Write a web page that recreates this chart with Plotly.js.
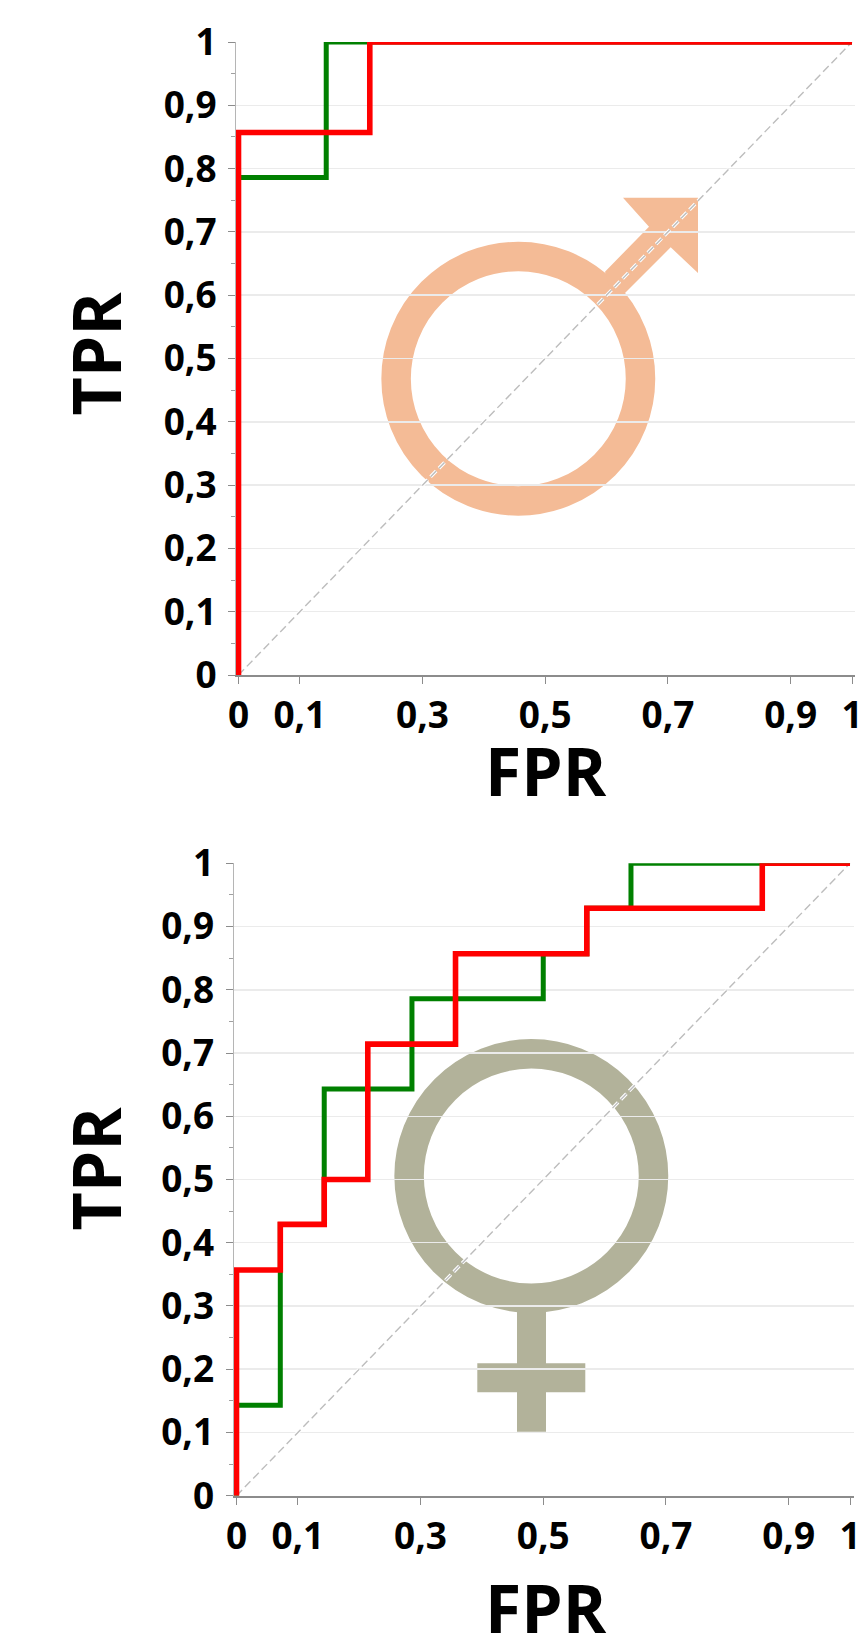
<!DOCTYPE html>
<html><head><meta charset="utf-8">
<script src="https://cdn.plot.ly/plotly-3.0.1.min.js"></script>
<style>html,body{margin:0;padding:0;background:#fff}</style>
</head><body><div id="chart" style="width:866px;height:1644px"></div>
<script>
// ---- data ----
const xTickVals = [0, 0.1, 0.3, 0.5, 0.7, 0.9, 1];
const xTickText = ['0', '0,1', '0,3', '0,5', '0,7', '0,9', '1'];
const yTickVals = [0, 0.1, 0.2, 0.3, 0.4, 0.5, 0.6, 0.7, 0.8, 0.9, 1];
const yTickText = ['0', '0,1', '0,2', '0,3', '0,4', '0,5', '0,6', '0,7', '0,8', '0,9', '1'];
const yMinorVals = [0.05, 0.15, 0.25, 0.35, 0.45, 0.55, 0.65, 0.75, 0.85, 0.95];
const diagX = [0, 1];
const diagY = [0, 1];

const maleGreenX = [0, 0, 0.143, 0.143, 1];
const maleGreenY = [0, 0.786, 0.786, 1, 1];
const maleRedX = [0, 0, 0.214, 0.214, 1];
const maleRedY = [0, 0.857, 0.857, 1, 1];

const femaleGreenX = [0, 0, 0.0714, 0.0714, 0.143, 0.143, 0.286, 0.286, 0.5, 0.5, 0.571, 0.571, 0.643, 0.643, 1];
const femaleGreenY = [0, 0.143, 0.143, 0.429, 0.429, 0.643, 0.643, 0.786, 0.786, 0.857, 0.857, 0.929, 0.929, 1, 1];
const femaleRedX = [0, 0, 0.0714, 0.0714, 0.143, 0.143, 0.214, 0.214, 0.357, 0.357, 0.571, 0.571, 0.857, 0.857, 1];
const femaleRedY = [0, 0.357, 0.357, 0.429, 0.429, 0.5, 0.5, 0.714, 0.714, 0.857, 0.857, 0.929, 0.929, 1, 1];

// ---- layout geometry (page pixels) ----
const W = 866, H = 1644;
const FONT = '"Open Sans", sans-serif';
const panels = [
  {xa:'x',  ya:'y',  left:236,   right:855,   top:42,    bottom:675,    x0:238.5, x1:852},
  {xa:'x2', ya:'y2', left:233.5, right:853.7, top:863.3, bottom:1495.7, x0:236.5, x1:850}
];
panels.forEach(p => {
  p.u = p.x1 - p.x0;
  p.X = px => (px - p.x0) / p.u;
  p.Y = py => (p.bottom - py) / (p.bottom - p.top);
});

function axisX(p) {
  return {
    domain: [p.left / W, p.right / W],
    range: [p.X(p.left), p.X(p.right)],
    anchor: p.ya, tickmode: 'array', tickvals: xTickVals, ticktext: xTickText,
    ticks: 'outside', ticklen: 7, tickwidth: 1, tickcolor: '#8c8c8c',
    showgrid: false, zeroline: false, showline: true, linecolor: '#8c8c8c', linewidth: 2,
    tickfont: {family: FONT, size: 37, weight: 700, color: '#000'},
    ticklabelstandoff: 0, automargin: false
  };
}
function axisY(p) {
  return {
    domain: [1 - p.bottom / H, 1 - p.top / H],
    range: [0, 1], anchor: p.xa, tickmode: 'array', tickvals: yTickVals, ticktext: yTickText,
    ticks: 'outside', ticklen: 7, tickwidth: 1, tickcolor: '#8c8c8c',
    showgrid: true, gridcolor: '#ebebeb', gridwidth: 1.5, zeroline: false,
    showline: true, linecolor: '#b5b5b5', linewidth: 1,
    minor: {tickmode: 'array', tickvals: yMinorVals, ticks: 'outside', ticklen: 4, tickwidth: 1, tickcolor: '#a0a0a0', showgrid: false},
    tickfont: {family: FONT, size: 37, weight: 700, color: '#000'},
    ticklabelstandoff: 4, automargin: false
  };
}

function traces(p, gx, gy, rx, ry) {
  const base = {type: 'scatter', mode: 'lines', xaxis: p.xa, yaxis: p.ya, hoverinfo: 'skip', showlegend: false};
  return [
    {...base, x: diagX, y: diagY, line: {color: '#ffffff', width: 3.5, dash: '8px,4px'}},
    {...base, x: diagX, y: diagY, line: {color: '#bdbdbd', width: 1.4, dash: '8px,4px'}},
    {...base, x: gx, y: gy, line: {color: '#008000', width: 5, shape: 'linear'}},
    {...base, x: rx, y: ry, line: {color: '#ff0000', width: 5.6, shape: 'linear'}}
  ];
}

// ---- gender symbols, behind the grid ----
function ring(p, cx, cy, r, color) {
  return {type: 'circle', layer: 'below', xref: p.xa, yref: p.ya,
    x0: p.X(cx - r), x1: p.X(cx + r), y0: p.Y(cy + r), y1: p.Y(cy - r),
    line: {color: color, width: 29.5}, fillcolor: 'rgba(0,0,0,0)'};
}
function poly(p, pts, color) {
  const d = pts.map((q, i) => (i ? 'L' : 'M') + p.X(q[0]) + ',' + p.Y(q[1])).join(' ') + ' Z';
  return {type: 'path', layer: 'below', xref: p.xa, yref: p.ya, path: d, fillcolor: color, line: {width: 0}};
}
const MALE = '#f4bb96', FEMALE = '#b2b29a';
const shapes = [
  ring(panels[0], 518.3, 378.7, 122.2, MALE),
  poly(panels[0], [[605,271.7],[649,226.7],[623,197.7],[698,197.7],[698,273],[670.7,247.3],[625,293],[610,290]], MALE),
  ring(panels[1], 531.3, 1176, 122.2, FEMALE),
  poly(panels[1], [[517,1305],[546,1305],[546,1363.3],[585.3,1363.3],[585.3,1392.3],[546,1392.3],[546,1431.7],[517,1431.7],[517,1392.3],[477.3,1392.3],[477.3,1363.3],[517,1363.3]], FEMALE)
];

function label(text, cx, cy, angle) {
  return {text: text, xref: 'paper', yref: 'paper', x: cx / W, y: 1 - cy / H, xanchor: 'center', yanchor: 'middle',
    showarrow: false, textangle: angle, height: 66, font: {family: FONT, size: 66, weight: 700, color: '#000'}};
}
const annotations = [
  label('TPR', 94.5, 354, -90), label('FPR', 546, 769.5, 0),
  label('TPR', 94.5, 1169, -90), label('FPR', 546, 1607, 0)
];

const data = [
  ...traces(panels[0], maleGreenX, maleGreenY, maleRedX, maleRedY),
  ...traces(panels[1], femaleGreenX, femaleGreenY, femaleRedX, femaleRedY)
];
const layout = {
  width: W, height: H, margin: {l: 0, r: 0, t: 0, b: 0}, autosize: false,
  paper_bgcolor: '#fff', plot_bgcolor: '#fff', showlegend: false,
  xaxis: axisX(panels[0]), yaxis: axisY(panels[0]),
  xaxis2: axisX(panels[1]), yaxis2: axisY(panels[1]),
  shapes: shapes, annotations: annotations
};
Plotly.newPlot('chart', data, layout, {displayModeBar: false, staticPlot: true});
</script></body></html>
